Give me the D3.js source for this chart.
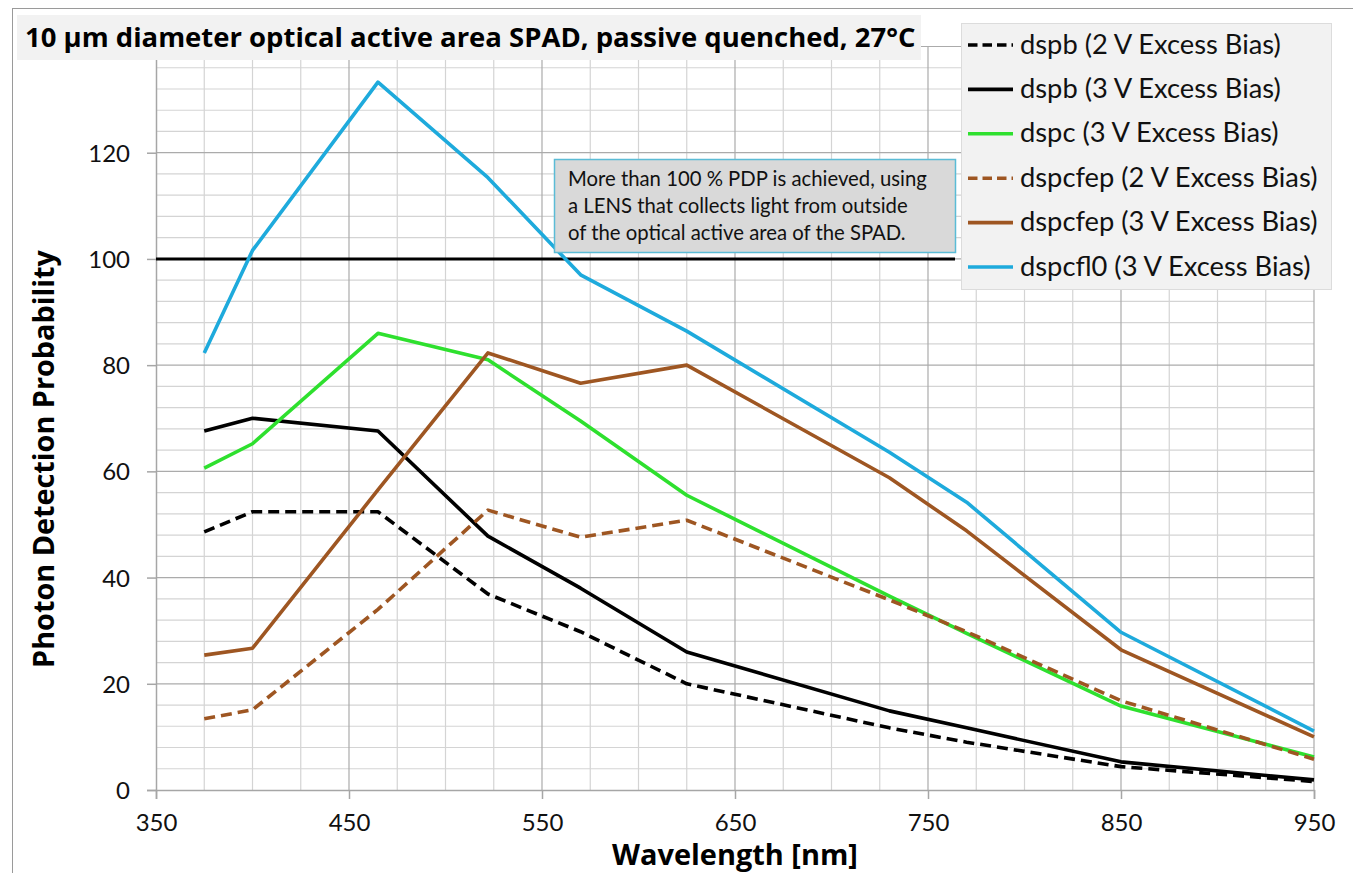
<!DOCTYPE html>
<html>
<head>
<meta charset="utf-8">
<script src="https://cdn.jsdelivr.net/npm/d3@7"></script>
<style>
  html, body { margin: 0; padding: 0; background: #fff; }
  svg { display: block; }
</style>
</head>
<body>
<svg id="chart" width="1353" height="873"></svg>
<script>
// ---------------- data ----------------
const wavelengths = [375, 400, 465, 522, 570, 625, 730, 770, 850, 950];
const dspb2    = [48.6, 52.4, 52.4, 36.9, 29.8, 20.0, 11.7, 9.0, 4.4, 1.6];
const dspb3    = [67.6, 70.0, 67.6, 47.8, 38.0, 26.0, 14.9, 11.7, 5.3, 1.9];
const dspc3    = [60.6, 65.2, 86.0, 81.0, 69.5, 55.5, 36.5, 29.5, 15.8, 6.2];
const dspcfep2 = [13.4, 15.1, 34.0, 52.7, 47.6, 50.8, 35.8, 29.8, 16.8, 5.8];
const dspcfep3 = [25.4, 26.7, 56.5, 82.3, 76.6, 80.0, 58.8, 48.8, 26.4, 10.0];
const dspcfl0  = [82.3, 101.6, 133.3, 115.3, 97.0, 86.4, 63.6, 54.2, 29.7, 11.1];

const seriesNames = [
  "dspb (2 V Excess Bias)",
  "dspb (3 V Excess Bias)",
  "dspc (3 V Excess Bias)",
  "dspcfep (2 V Excess Bias)",
  "dspcfep (3 V Excess Bias)",
  "dspcfl0 (3 V Excess Bias)"
];
const seriesValues = [dspb2, dspb3, dspc3, dspcfep2, dspcfep3, dspcfl0];
const seriesColors = ["#000000", "#000000", "#2ee02e", "#9e5622", "#9e5622", "#1eaadc"];
const seriesDashed = [true, false, false, true, false, false];

const xTickLabels = [350, 450, 550, 650, 750, 850, 950];
const yTickLabels = [0, 20, 40, 60, 80, 100, 120];
const referenceLevel = 100;      // 100 % PDP line
const referenceEnd = 764;        // wavelength where the 100 % line stops

const titleText = "10 \u00b5m diameter optical active area SPAD, passive quenched, 27\u00b0C";
const noteLines = [
  "More than 100 % PDP is achieved, using",
  "a LENS that collects light from outside",
  "of the optical active area of the SPAD."
];

// ---------------- layout ----------------
const svg = d3.select("#chart");
const pLeft = 156, pRight = 1314, pTop = 46.5, pBottom = 790;
const x = d3.scaleLinear().domain([350, 950]).range([pLeft, pRight]);
const y = d3.scaleLinear().domain([0, 140]).range([pBottom, pTop]);

function fit(sel, target) {
  const w = sel.node().getComputedTextLength();
  const fs = parseFloat(sel.attr("font-size"));
  if (w > 0) sel.attr("font-size", fs * target / w);
}

// frame
svg.append("rect").attr("x", 12.5).attr("y", 8.5).attr("width", 1400).attr("height", 900)
  .attr("fill", "#fff").attr("stroke", "#9a9a9a").attr("stroke-width", 1);

// grid
const grid = svg.append("g");
const xMinor = d3.range(350, 951, 25);
const yMinor = d3.range(0, 141, 4);
grid.selectAll(".vminor").data(xMinor.filter(v => (v - 350) % 100 !== 0)).join("line")
  .attr("x1", d => x(d)).attr("x2", d => x(d)).attr("y1", pTop).attr("y2", pBottom)
  .attr("stroke", "#d4d4d4").attr("stroke-width", 1.2);
grid.selectAll(".hminor").data(yMinor.filter(v => v % 20 !== 0)).join("line")
  .attr("x1", pLeft).attr("x2", pRight).attr("y1", d => y(d)).attr("y2", d => y(d))
  .attr("stroke", "#d4d4d4").attr("stroke-width", 1.2);
grid.selectAll(".hmajor").data(d3.range(20, 141, 20)).join("line")
  .attr("x1", pLeft).attr("x2", pRight).attr("y1", d => y(d)).attr("y2", d => y(d))
  .attr("stroke", "#ababab").attr("stroke-width", 1.2);
grid.selectAll(".vmajor").data(xTickLabels.slice(1)).join("line")
  .attr("x1", d => x(d)).attr("x2", d => x(d)).attr("y1", pTop).attr("y2", pBottom)
  .attr("stroke", "#ababab").attr("stroke-width", 1.2);

// axes
const xAxis = svg.append("g").attr("transform", `translate(0,${pBottom})`)
  .call(d3.axisBottom(x).tickValues(xTickLabels).tickSize(9).tickPadding(12).tickFormat(d3.format("d")));
const yAxis = svg.append("g").attr("transform", `translate(${pLeft},0)`)
  .call(d3.axisLeft(y).tickValues(yTickLabels).tickSize(9).tickPadding(17).tickFormat(d3.format("d")));
[xAxis, yAxis].forEach(a => {
  a.select(".domain").attr("stroke", "#a6a6a6").attr("stroke-width", 1.5);
  a.selectAll(".tick line").attr("stroke", "#a6a6a6").attr("stroke-width", 1.5);
  a.selectAll(".tick text").attr("fill", "#111").attr("font-family", "Lato, 'Noto Sans', sans-serif")
    .attr("font-size", 24);
});
xAxis.selectAll(".tick text").attr("dy", "0.85em");
yAxis.selectAll(".tick text").attr("dy", "0.36em");

// 100 % reference line
svg.append("line")
  .attr("x1", x(350)).attr("x2", x(referenceEnd))
  .attr("y1", y(referenceLevel)).attr("y2", y(referenceLevel))
  .attr("stroke", "#000").attr("stroke-width", 3);

// series
const line = d3.line().x((d, i) => x(wavelengths[i])).y(d => y(d));
const seriesG = svg.append("g");
seriesValues.forEach((vals, k) => {
  seriesG.append("path").datum(vals)
    .attr("d", line)
    .attr("fill", "none")
    .attr("stroke", seriesColors[k])
    .attr("stroke-width", 3.6)
    .attr("stroke-linejoin", "round")
    .attr("stroke-dasharray", seriesDashed[k] ? "11,6" : null);
});

// annotation box
const note = svg.append("g");
note.append("rect").attr("x", 554.5).attr("y", 159.5).attr("width", 401).attr("height", 93)
  .attr("fill", "#d9d9d9").attr("stroke", "#5bbcd6").attr("stroke-width", 1.5);
const noteTexts = [];
noteLines.forEach((t, i) => {
  noteTexts.push(note.append("text").attr("x", 568).attr("y", 186 + i * 26.8)
    .attr("font-family", "Lato, 'Noto Sans', sans-serif").attr("font-size", 18)
    .attr("fill", "#111").text(t));
});
fit(noteTexts[0], 359);
note.selectAll("text").attr("font-size", noteTexts[0].attr("font-size"));

// title box
svg.append("rect").attr("x", 17).attr("y", 15).attr("width", 904).attr("height", 45).attr("fill", "#f2f2f2");
const title = svg.append("text").attr("x", 25).attr("y", 47)
  .attr("font-family", "'Open Sans', 'Noto Sans', sans-serif").attr("font-weight", 700)
  .attr("font-size", 22).attr("fill", "#000").text(titleText);
fit(title, 891);

// legend
const lg = svg.append("g");
lg.append("rect").attr("x", 961.5).attr("y", 23.5).attr("width", 370).attr("height", 266)
  .attr("fill", "#f2f2f2").attr("stroke", "#dcdcdc").attr("stroke-width", 1);
const legendTexts = [];
seriesNames.forEach((name, k) => {
  const cy = 45 + k * 44.4;
  lg.append("line").attr("x1", 968).attr("x2", 1013).attr("y1", cy).attr("y2", cy)
    .attr("stroke", seriesColors[k]).attr("stroke-width", 3.6)
    .attr("stroke-dasharray", seriesDashed[k] ? "9.5,5" : null);
  legendTexts.push(lg.append("text").attr("x", 1020).attr("y", cy + 8.5)
    .attr("font-family", "Lato, 'Noto Sans', sans-serif").attr("font-size", 23)
    .attr("fill", "#111").text(name));
});
fit(legendTexts[0], 261);
lg.selectAll("text").attr("font-size", legendTexts[0].attr("font-size"));

// axis titles
const xt = svg.append("text").attr("x", 735).attr("y", 865).attr("text-anchor", "middle")
  .attr("font-family", "'Open Sans', 'Noto Sans', sans-serif").attr("font-weight", 700)
  .attr("font-size", 24).attr("fill", "#000").text("Wavelength [nm]");
fit(xt, 246);
const yt = svg.append("text").attr("transform", "translate(54,459) rotate(-90)")
  .attr("text-anchor", "middle")
  .attr("font-family", "'Open Sans', 'Noto Sans', sans-serif").attr("font-weight", 700)
  .attr("font-size", 24).attr("fill", "#000").text("Photon Detection Probability");
fit(yt, 418);
</script>
</body>
</html>
